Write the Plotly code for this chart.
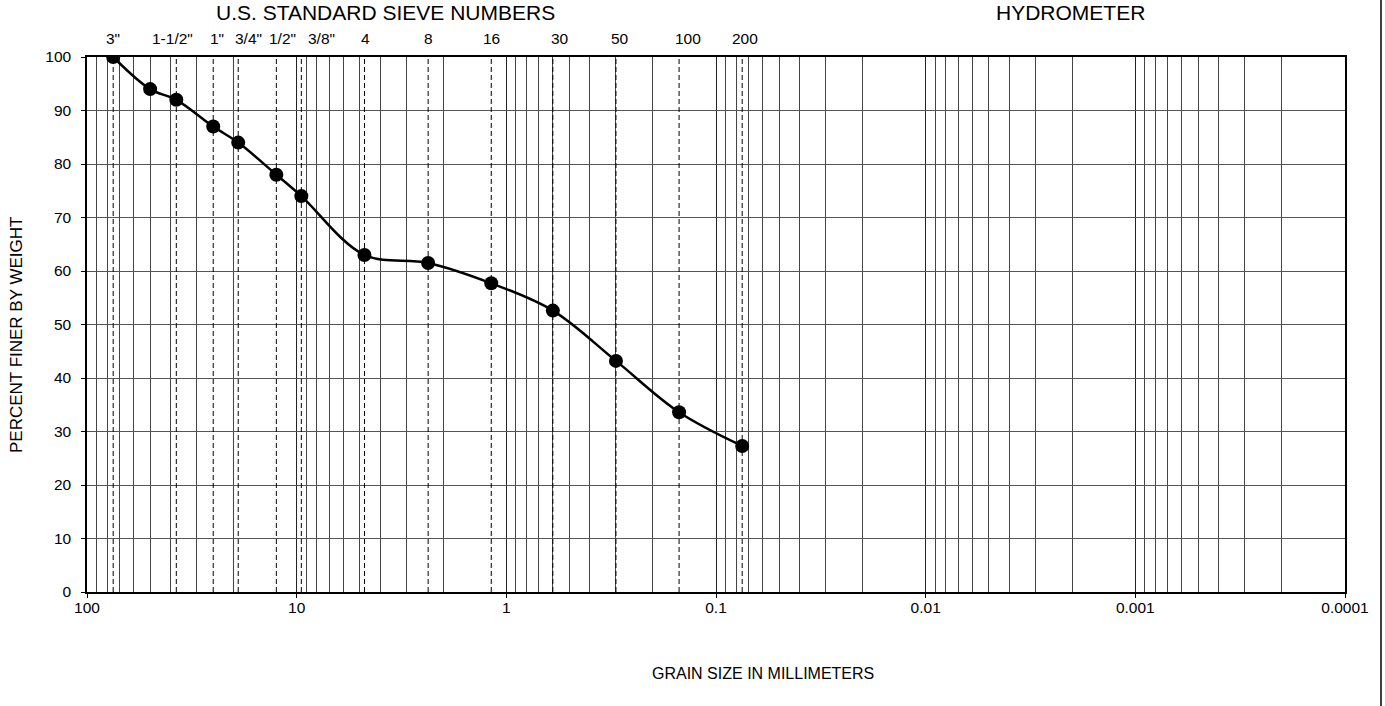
"""Grain size distribution chart (sieve analysis)."""
import numpy as np
import plotly.graph_objects as go

FONT = "Liberation Sans, Arial, sans-serif"

# sample results: grain size (mm) vs percent finer
grain_mm = [75, 50, 37.5, 25, 19, 12.5, 9.5, 4.75, 2.36, 1.18, 0.6, 0.3, 0.15, 0.075]
pct_finer = [100, 94, 92, 87, 84, 78, 74, 63, 61.5, 57.7, 52.6, 43.2, 33.6, 27.3]

# US standard sieves shown across the top
sieve_names = ['3"', '1-1/2"', '1"', '3/4"', '1/2"', '3/8"', "4", "8", "16", "30", "50", "100", "200"]
sieve_mm = [75, 37.5, 25, 19, 12.5, 9.5, 4.75, 2.36, 1.18, 0.6, 0.3, 0.15, 0.075]
# the labels are not centred exactly on their lines in the original sheet
label_shift_px = [0, -4, 4, 10, 6, 20, 1, 0, 0, 7, 4, 9, 3]

x_ticks = [100, 10, 1, 0.1, 0.01, 0.001, 0.0001]
x_ticktext = ["100", "10", "1", "0.1", "0.01", "0.001", "0.0001"]
y_ticks = list(range(0, 101, 10))

minor_vals = [m * 10.0 ** e for e in range(-4, 2) for m in range(2, 10)]

W, H = 1385, 706
PL, PR, PT, PB = 87, 1345, 57, 592  # plot box in page px
L, R, T, B = PL, W - PR, PT, H - PB
pw, ph = PR - PL, PB - PT


def px_x(p):
    return (p - PL) / pw


def px_y(p):
    return (PB - p) / ph


def label(x, y, text, size, **kw):
    fig.add_annotation(x=px_x(x), y=px_y(y), xref="paper", yref="paper", text=text, showarrow=False,
                       xanchor="center", yanchor="middle", font=dict(size=size, color="black"), **kw)


fig = go.Figure()

# dashed sieve lines
sx, sy = [], []
for s in sieve_mm:
    sx += [s, s, None]
    sy += [0, 100, None]
fig.add_trace(go.Scatter(x=sx, y=sy, mode="lines", line=dict(color="black", width=1, dash="5px,3px"),
                         hoverinfo="skip", showlegend=False))

fig.add_trace(go.Scatter(
    x=grain_mm, y=pct_finer, mode="lines+markers",
    line=dict(color="black", width=2.5, shape="spline", smoothing=1),
    marker=dict(color="black", size=14),
    showlegend=False,
))

for name, s, dx in zip(sieve_names, sieve_mm, label_shift_px):
    fig.add_annotation(x=np.log10(s), xref="x", y=px_y(38), yref="paper", text=name, xshift=dx,
                       showarrow=False, xanchor="center", yanchor="middle", font=dict(size=15.5, color="black"))

label(385, 13, "U.S. STANDARD SIEVE NUMBERS", 21)
label(1070, 13, "HYDROMETER", 21)
label(763, 673, "GRAIN SIZE IN MILLIMETERS", 16)
label(16, 335, "PERCENT FINER BY WEIGHT", 17, textangle=-90)

# outer border on the right
fig.add_shape(type="line", xref="paper", yref="paper", x0=px_x(1381), x1=px_x(1381),
              y0=px_y(H + 20), y1=px_y(-20), line=dict(color="black", width=1.5))

fig.update_xaxes(
    type="log", range=[2, -4],
    tickmode="array", tickvals=x_ticks, ticktext=x_ticktext,
    showgrid=True, gridcolor="#222", gridwidth=1,
    minor=dict(tickmode="array", tickvals=minor_vals, showgrid=True, gridcolor="#444", gridwidth=1, ticks=""),
    showline=True, linecolor="black", linewidth=1.5, mirror=True,
    ticks="outside", ticklen=4, tickcolor="black", ticklabelstandoff=-3,
    tickfont=dict(size=15.5, color="black"), zeroline=False,
)
fig.update_yaxes(
    range=[0, 100], tickvals=y_ticks,
    showgrid=True, gridcolor="#555", gridwidth=1,
    showline=True, linecolor="black", linewidth=1.5, mirror=True,
    ticks="outside", ticklen=4, tickcolor="black", ticklabelstandoff=7,
    tickfont=dict(size=15.5, color="black"), zeroline=False,
)
fig.update_layout(
    width=W, height=H, autosize=False,
    margin=dict(l=L, r=R, t=T, b=B),
    plot_bgcolor="white", paper_bgcolor="white",
    font=dict(family=FONT, color="black"),
)

# drop the browser's default 8px body margin so the page lines up with the sheet
fig.write_html("out.html", config={"displayModeBar": False},
               post_script="document.body.style.margin = '0px';")
